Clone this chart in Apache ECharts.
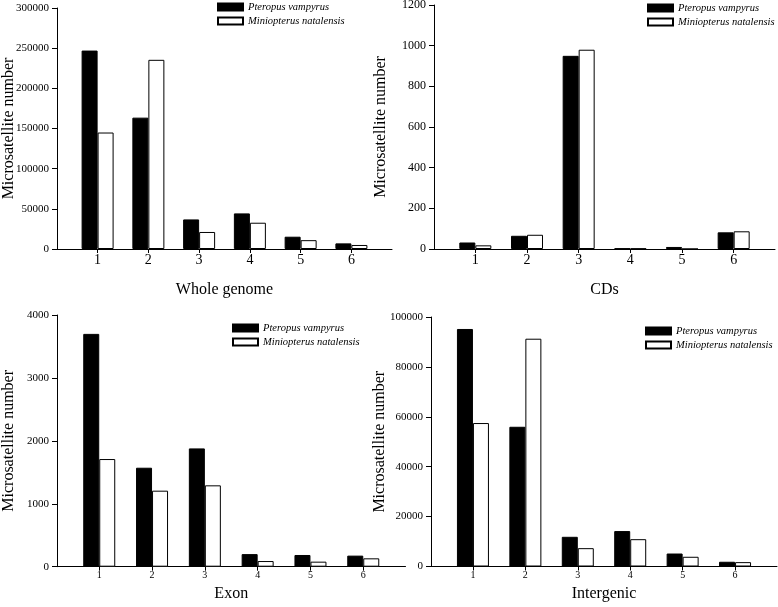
<!DOCTYPE html>
<html>
<head>
<meta charset="utf-8">
<script src="https://cdn.jsdelivr.net/npm/echarts@6/dist/echarts.min.js"></script>
<style>
html,body{margin:0;padding:0;background:#fff;}
#chart{width:778px;height:607px;}
</style>
</head>
<body>
<div id="chart"></div>
<script>
// ---- data ----
const motifLengths = [1, 2, 3, 4, 5, 6];
const seriesNames = ['Pteropus vampyrus', 'Miniopterus natalensis'];

const genomePv = [247000, 163500, 36800, 44300, 15300, 7000];
const genomeMn = [145000, 235500, 21200, 32700, 11000, 5000];

const cdsPv = [32, 65, 950, 3, 10, 82];
const cdsMn = [18, 70, 980, 2, 0, 87];

const exonPv = [3700, 1573, 1880, 200, 186, 176];
const exonMn = [1711, 1208, 1293, 90, 80, 133];

const interPv = [95200, 56000, 11900, 14200, 5200, 1900];
const interMn = [57500, 91300, 7350, 10950, 3900, 1750];

const panelTitles = ['Whole genome', 'CDs', 'Exon', 'Intergenic'];
const yMax = [300000, 1200, 4000, 100000];
const yStep = [50000, 200, 1000, 20000];
const yName = 'Microsatellite number';

// ---- layout ----
const FONT = '"Liberation Serif", "Times New Roman", serif';
const panels = [
  {pv: genomePv, mn: genomeMn, grid: {left: 57, top: 8, width: 335, height: 241}, xLab: 14, yLab: 11, xNameGap: 33, yNameGap: 40, legend: {left: 217, top: 1}},
  {pv: cdsPv, mn: cdsMn, grid: {left: 434, top: 5, width: 341, height: 244}, xLab: 14, yLab: 12, xNameGap: 33, yNameGap: 45, legend: {left: 647, top: 2}},
  {pv: exonPv, mn: exonMn, grid: {left: 57, top: 315, width: 348.5, height: 251.7}, xLab: 10, yLab: 11, xNameGap: 19, yNameGap: 40, legend: {left: 232, top: 322}},
  {pv: interPv, mn: interMn, grid: {left: 431, top: 317, width: 346, height: 249.5}, xLab: 10, yLab: 11, xNameGap: 19, yNameGap: 43, legend: {left: 645, top: 325}}
];

const option = {
  animation: false,
  backgroundColor: '#fff',
  textStyle: {fontFamily: FONT, color: '#000'},
  grid: [], xAxis: [], yAxis: [], series: [], legend: []
};

panels.forEach((p, i) => {
  option.grid.push(Object.assign({containLabel: false, outerBoundsMode: 'none'}, p.grid));
  option.xAxis.push({
    type: 'value', gridIndex: i, min: 0.2, max: 6.8,
    name: panelTitles[i], nameLocation: 'middle', nameGap: p.xNameGap, nameMoveOverlap: false,
    nameTextStyle: {fontFamily: FONT, fontSize: 16, color: '#000'},
    axisLine: {show: true, onZero: false, lineStyle: {color: '#000', width: 1}},
    axisTick: {show: true, inside: false, length: 4, customValues: motifLengths, lineStyle: {color: '#000'}},
    axisLabel: {show: true, customValues: motifLengths, margin: 4, fontFamily: FONT, fontSize: p.xLab, color: '#000',
      formatter: v => String(Math.round(v))},
    splitLine: {show: false}
  });
  option.yAxis.push({
    type: 'value', gridIndex: i, min: 0, max: yMax[i], interval: yStep[i],
    name: yName, nameLocation: 'middle', nameGap: p.yNameGap, nameRotate: 90, nameMoveOverlap: false,
    nameTextStyle: {fontFamily: FONT, fontSize: 16, color: '#000'},
    axisLine: {show: true, lineStyle: {color: '#000', width: 1}},
    axisTick: {show: true, inside: false, length: 5, lineStyle: {color: '#000'}},
    axisLabel: {margin: 8, fontFamily: FONT, fontSize: p.yLab, color: '#000', formatter: v => String(v)},
    splitLine: {show: false}
  });
  option.series.push({
    name: seriesNames[0], type: 'bar', xAxisIndex: i, yAxisIndex: i,
    barWidth: 16, barGap: '0%',
    itemStyle: {color: '#000', borderColor: '#000', borderWidth: 1},
    data: motifLengths.map((m, k) => [m, p.pv[k]])
  });
  option.series.push({
    name: seriesNames[1], type: 'bar', xAxisIndex: i, yAxisIndex: i,
    barWidth: 16, barGap: '0%',
    itemStyle: {color: '#fff', borderColor: '#000', borderWidth: 1},
    data: motifLengths.map((m, k) => [m, p.mn[k]])
  });
  option.legend.push({
    data: seriesNames, orient: 'vertical', left: p.legend.left, top: p.legend.top,
    padding: 0, itemWidth: 25, itemHeight: 7, itemGap: 2, icon: 'rect', selectedMode: false,
    textStyle: {fontFamily: FONT, fontStyle: 'italic', fontSize: 10.5, color: '#000', lineHeight: 12}
  });
});

const chart = echarts.init(document.getElementById('chart'), null, {renderer: 'canvas'});
chart.setOption(option);
</script>
</body>
</html>
